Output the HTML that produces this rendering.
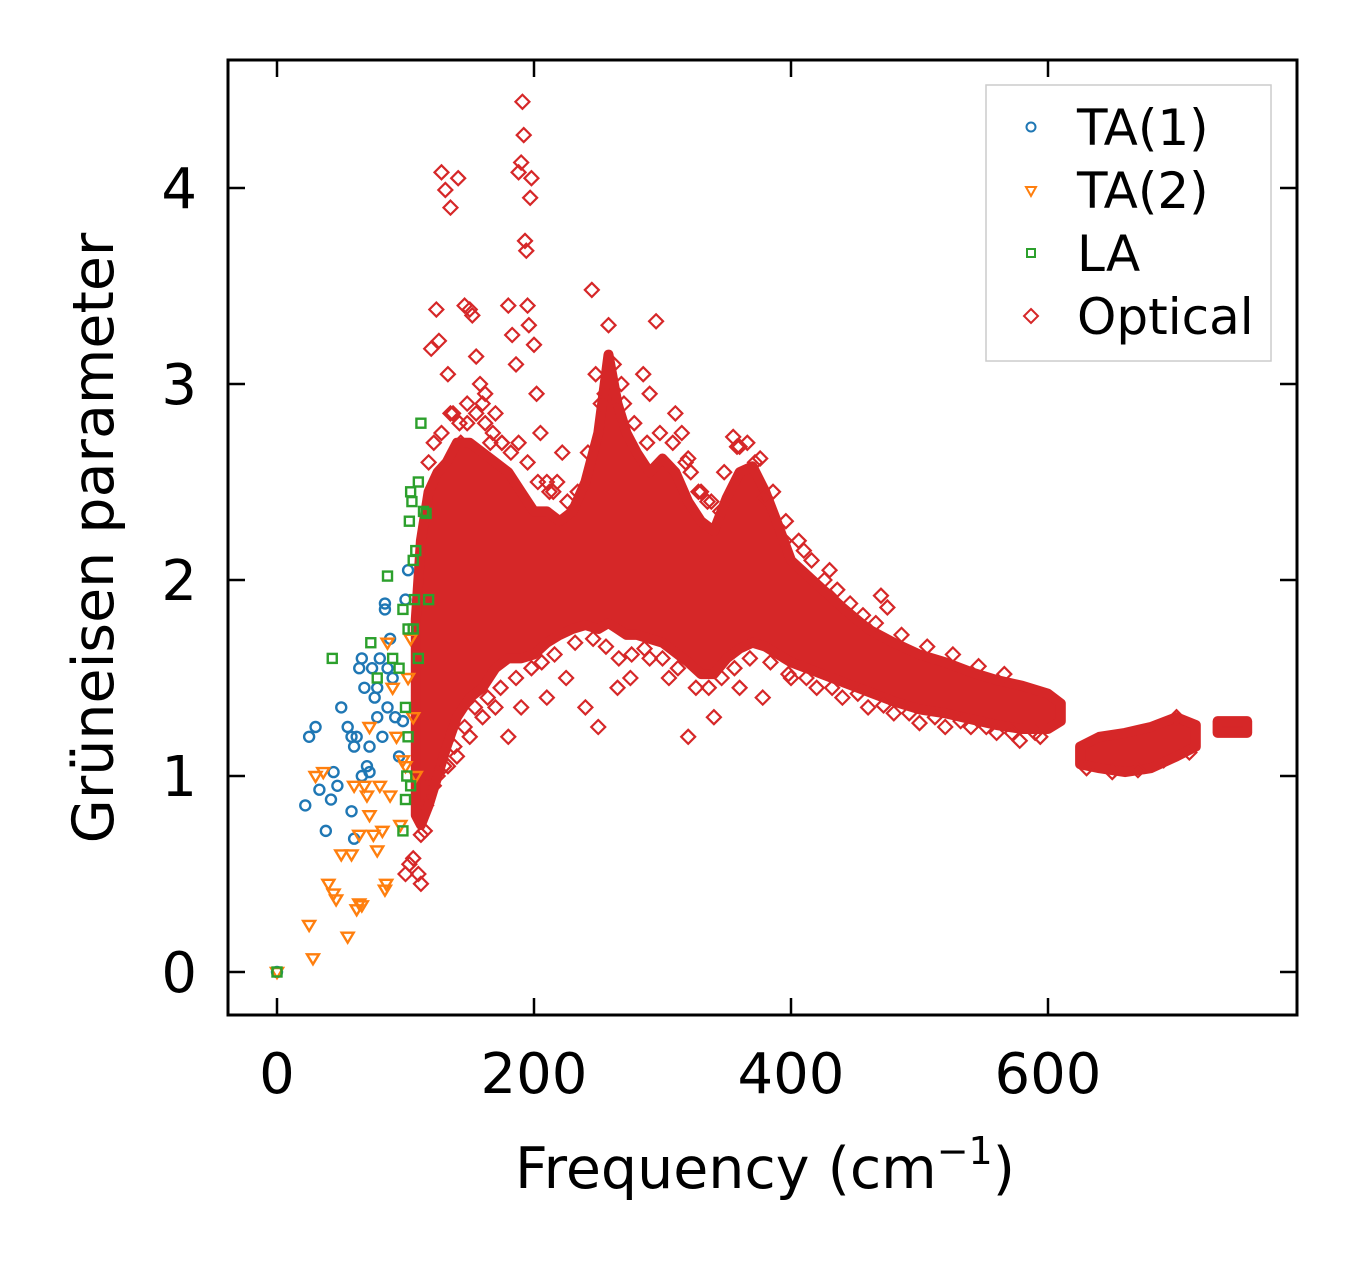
<!DOCTYPE html>
<html><head><meta charset="utf-8">
<style>
html,body{margin:0;padding:0;background:#fff;}
svg{display:block;font-family:"DejaVu Sans","Liberation Sans",sans-serif;}
</style></head>
<body>
<svg id="chart" width="1357" height="1264" viewBox="0 0 1357 1264" xmlns="http://www.w3.org/2000/svg">
<rect x="0" y="0" width="1357" height="1264" fill="#fff"/>
<g id="plot"></g>
<g id="axes"></g>
<text x="765" y="1188" font-size="57" text-anchor="middle">Frequency (cm<tspan font-size="38" dy="-24">−1</tspan><tspan dy="24">)</tspan></text>
<text transform="translate(113,538) rotate(-90)" font-size="57" text-anchor="middle">Grüneisen parameter</text>
<g>
<rect x="986" y="85" width="285" height="276" fill="#fff" fill-opacity="0.8" stroke="#ccc" stroke-width="1.5"/>
<circle cx="1031" cy="127" r="4.5" fill="none" stroke="#1f77b4" stroke-width="2"/>
<text x="1077" y="145" font-size="50">TA(1)</text>
<path d="M1026,187 L1036,187 L1031,196 Z" fill="none" stroke="#ff7f0e" stroke-width="2"/>
<text x="1077" y="208" font-size="50">TA(2)</text>
<rect x="1027" y="249" width="8" height="8" fill="none" stroke="#2ca02c" stroke-width="2"/>
<text x="1077" y="271" font-size="50">LA</text>
<path d="M1031,309 L1038,316 L1031,323 L1024,316 Z" fill="none" stroke="#d62728" stroke-width="2"/>
<text x="1077" y="334" font-size="50">Optical</text>
</g>
</svg>
<script>
const xTicks = [0, 200, 400, 600];
const yTicks = [0, 1, 2, 3, 4];
// optical dense band segments: [freq, low, high]
const opticalBand1 = [[108,0.8,1.8],[112,0.75,2.2],[118,0.85,2.45],[125,1.0,2.55],[132,1.15,2.6],[140,1.3,2.7],[150,1.4,2.7],[160,1.45,2.65],[170,1.55,2.6],[180,1.6,2.55],[190,1.6,2.45],[200,1.62,2.35],[210,1.68,2.35],[220,1.72,2.3],[230,1.75,2.35],[240,1.77,2.5],[250,1.75,2.75],[258,1.78,3.15],[265,1.75,2.9],[272,1.72,2.75],[280,1.72,2.65],[290,1.7,2.55],[300,1.68,2.62],[310,1.63,2.55],[320,1.58,2.4],[330,1.52,2.3],[340,1.52,2.25],[350,1.6,2.42],[360,1.65,2.55],[370,1.68,2.58],[380,1.66,2.45],[390,1.62,2.28],[400,1.58,2.1],[420,1.53,1.98],[440,1.48,1.86],[460,1.43,1.75],[480,1.38,1.68],[500,1.34,1.62],[520,1.32,1.58],[540,1.29,1.53],[560,1.26,1.49],[580,1.24,1.46],[600,1.24,1.42],[610,1.28,1.37]];
const opticalBand2 = [[625,1.06,1.15],[640,1.04,1.2],[660,1.02,1.22],[680,1.04,1.25],[700,1.1,1.3],[715,1.15,1.26]];
const opticalBand3 = [[732,1.22,1.28],[755,1.22,1.28]];
const opticalFreq = [128,131,135,141,146,150,152,155,158,160,120,124,126,133,137,143,148,162,166,170,175,180,183,186,188,190,191,192,193,194,195,196,197,198,200,202,205,210,215,222,245,248,255,258,262,270,285,290,295,310,315,320,322,330,335,345,355,360,372,380,395,410,430,470,475,100,103,106,110,112,115,118,125,133,140,150,160,170,180,190,210,225,240,250,265,275,290,305,320,340,360,378,400,420,440,460,480,500,520,540,560,578,590,700,
 118,122,128,135,142,148,155,162,168,175,182,188,195,203,212,218,226,234,242,252,268,278,288,298,308,318,328,338,348,358,366,376,386,396,406,416,426,436,446,456,466,486,506,526,546,566,
 112,116,122,130,138,146,154,164,174,186,198,206,216,232,246,256,266,276,286,300,312,326,336,346,356,368,384,398,412,432,452,472,492,512,532,552,572,594,630,650,670,690,710];
const opticalVals = [4.08,3.99,3.9,4.05,3.4,3.38,3.35,3.14,3.0,2.9,3.18,3.38,3.22,3.05,2.85,2.7,2.8,2.95,2.7,2.85,2.7,3.4,3.25,3.1,4.08,4.13,4.44,4.27,3.73,3.68,3.4,3.3,3.95,4.05,3.2,2.95,2.75,2.5,2.45,2.65,3.48,3.05,2.95,3.3,3.1,2.9,3.05,2.95,3.32,2.85,2.75,2.62,2.55,2.45,2.4,2.35,2.73,2.68,2.6,2.42,2.2,2.15,2.05,1.92,1.86,0.5,0.55,0.58,0.5,0.45,0.72,0.95,1.0,1.05,1.1,1.2,1.3,1.35,1.2,1.35,1.4,1.5,1.35,1.25,1.45,1.5,1.6,1.5,1.2,1.3,1.45,1.4,1.5,1.45,1.4,1.35,1.32,1.27,1.25,1.25,1.22,1.18,1.22,1.3,
 2.6,2.7,2.75,2.85,2.8,2.9,2.85,2.8,2.75,2.7,2.65,2.7,2.6,2.5,2.45,2.5,2.4,2.45,2.65,2.9,3.0,2.8,2.7,2.75,2.7,2.6,2.45,2.4,2.55,2.68,2.7,2.62,2.45,2.3,2.2,2.1,2.0,1.95,1.88,1.82,1.78,1.72,1.66,1.62,1.56,1.52,
 0.7,0.85,0.95,1.05,1.15,1.25,1.35,1.4,1.45,1.5,1.55,1.58,1.62,1.68,1.7,1.66,1.6,1.62,1.65,1.6,1.55,1.45,1.45,1.5,1.55,1.6,1.58,1.52,1.5,1.45,1.42,1.36,1.32,1.3,1.28,1.25,1.22,1.2,1.04,1.02,1.03,1.08,1.12];
const ta1Freq = [0,22,25,30,33,38,42,44,47,50,55,58,60,62,64,66,68,70,72,74,76,78,80,82,84,86,88,90,92,95,98,100,102,84,86,60,58,66,72,78];
const ta1Vals = [0,0.85,1.2,1.25,0.93,0.72,0.88,1.02,0.95,1.35,1.25,0.82,1.15,1.2,1.55,1.6,1.45,1.05,1.02,1.55,1.4,1.3,1.6,1.2,1.85,1.55,1.7,1.5,1.3,1.1,1.28,1.9,2.05,1.88,1.35,0.68,1.2,1.0,1.15,1.45];
const ta2Freq = [0,25,28,30,36,40,44,46,50,55,58,60,62,64,66,68,70,72,75,78,80,82,85,88,90,93,96,98,100,102,104,106,108,84,86,72,64];
const ta2Vals = [0,0.24,0.07,1.0,1.02,0.45,0.4,0.37,0.6,0.18,0.6,0.95,0.32,0.7,0.34,0.95,0.9,0.8,0.7,0.62,0.95,0.72,0.45,0.9,1.45,1.2,0.75,1.08,1.05,1.5,1.7,1.3,1.0,0.42,1.68,1.25,0.35];
const laFreq = [0,43,73,78,86,90,95,98,100,101,102,103,104,105,106,107,108,110,112,114,116,118,100,102,104,98,106,110];
const laVals = [0,1.6,1.68,1.5,2.02,1.6,1.55,1.85,0.88,1.0,1.75,2.3,2.45,2.4,2.1,1.9,2.15,2.5,2.8,2.35,2.34,1.9,1.35,1.2,0.95,0.72,1.75,1.6];

const X0=228,X1=1297,Y0=60,Y1=1015;
function sx(v){return 277+(v-0)*(534-277)/200;}
function sy(v){return 972-v*196;}
const NS='http://www.w3.org/2000/svg';
const plot=document.getElementById('plot');
const axes=document.getElementById('axes');
function mk(tag,attrs,parent){const e=document.createElementNS(NS,tag);for(const k in attrs)e.setAttribute(k,attrs[k]);parent.appendChild(e);return e;}

function drawBand(arr,name){
  let up=arr.map(p=>sx(p[0]).toFixed(1)+','+sy(p[2]).toFixed(1));
  let lo=arr.slice().reverse().map(p=>sx(p[0]).toFixed(1)+','+sy(p[1]).toFixed(1));
  const e=mk('polygon',{points:up.concat(lo).join(' '),fill:'#d62728',stroke:'#d62728','stroke-width':10,'stroke-linejoin':'round'},plot);
  
  
}
drawBand(opticalBand1,'optical-band-main');
drawBand(opticalBand2,'optical-band-high');
drawBand(opticalBand3,'optical-band-top');

opticalFreq.forEach((f,i)=>{
  const x=sx(f),y=sy(opticalVals[i]);
  const e=mk('path',{d:`M${x},${y-7} L${x+7},${y} L${x},${y+7} L${x-7},${y} Z`,fill:'none',stroke:'#d62728','stroke-width':2.2},plot);
  
  
});
ta1Freq.forEach((f,i)=>{
  const e=mk('circle',{cx:sx(f),cy:sy(ta1Vals[i]),r:5,fill:'none',stroke:'#1f77b4','stroke-width':2.4},plot);
  
  
});
ta2Freq.forEach((f,i)=>{
  const x=sx(f),y=sy(ta2Vals[i]);
  const e=mk('path',{d:`M${x-6},${y-4} L${x+6},${y-4} L${x},${y+6} Z`,fill:'none',stroke:'#ff7f0e','stroke-width':2.4},plot);
  
  
});
laFreq.forEach((f,i)=>{
  const x=sx(f),y=sy(laVals[i]);
  const e=mk('rect',{x:x-4.5,y:y-4.5,width:9,height:9,fill:'none',stroke:'#2ca02c','stroke-width':2.4},plot);
  
  
});

const frame=mk('rect',{x:X0,y:Y0,width:X1-X0,height:Y1-Y0,fill:'none',stroke:'#000','stroke-width':3},axes);


xTicks.forEach(t=>{
  const x=sx(t);
  const a=mk('line',{x1:x,y1:Y1,x2:x,y2:Y1-17,stroke:'#000','stroke-width':2.5},axes);
  
  
  const b=mk('line',{x1:x,y1:Y0,x2:x,y2:Y0+17,stroke:'#000','stroke-width':2.5},axes);
  
  
  const l=mk('text',{x:x,y:1093,'font-size':56,'text-anchor':'middle'},axes);
  l.textContent=t;
  
  
});
yTicks.forEach(t=>{
  const y=sy(t);
  const a=mk('line',{x1:X0,y1:y,x2:X0+17,y2:y,stroke:'#000','stroke-width':2.5},axes);
  
  
  const b=mk('line',{x1:X1,y1:y,x2:X1-17,y2:y,stroke:'#000','stroke-width':2.5},axes);
  
  
  const l=mk('text',{x:197,y:y+20,'font-size':56,'text-anchor':'end'},axes);
  l.textContent=t;
  
  
});
</script>
</body></html>
